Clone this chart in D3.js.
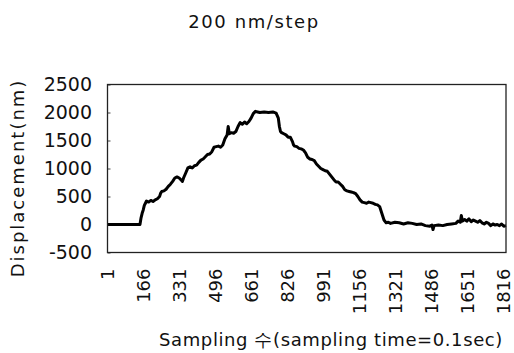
<!DOCTYPE html>
<html>
<head>
<meta charset="utf-8">
<script src="https://cdn.jsdelivr.net/npm/d3@7"></script>
<style>
  html, body { margin: 0; padding: 0; background: #fff; }
  svg { display: block; }
  text { font-family: "DejaVu Sans", sans-serif; fill: #111; }
</style>
</head>
<body>
<div id="chart"></div>
<script>
// sample index (x) and displacement in nm (y)
const samples = [
  1, 150, 155, 160, 165, 170, 175, 180, 190, 200, 210, 220, 230, 240, 245, 250,
  260, 270, 280, 290, 300, 310, 320, 330, 340, 345, 350, 360, 370, 380, 390, 400,
  410, 420, 430, 440, 450, 460, 470, 480, 490, 500, 510, 520, 530, 540, 550, 555,
  560, 570, 580, 590, 600, 610, 620, 630, 640, 650, 660, 670, 680, 690, 700, 720,
  740, 760, 775, 785, 790, 795, 800, 810, 820, 830, 840, 850, 855, 860, 870, 880,
  890, 900, 910, 920, 930, 940, 950, 960, 970, 980, 990, 1000, 1010, 1020, 1030, 1040,
  1050, 1060, 1070, 1080, 1090, 1100, 1110, 1120, 1130, 1140, 1150, 1160, 1170, 1180, 1190, 1200,
  1210, 1220, 1230, 1240, 1250, 1260, 1270, 1280, 1290, 1300, 1320, 1340, 1360, 1380, 1400, 1420,
  1440, 1460, 1480, 1490, 1495, 1500, 1520, 1540, 1560, 1580, 1600, 1610, 1620, 1625, 1630, 1640,
  1650, 1660, 1670, 1680, 1690, 1700, 1710, 1720, 1730, 1740, 1750, 1760, 1770, 1780, 1790, 1800,
  1810, 1820, 1830
];
const displacement = [
  0, 0, 120, 200, 260, 340, 380, 420, 400, 430, 410, 440, 460, 500, 560, 590,
  600, 630, 680, 720, 770, 830, 850, 830, 790, 770, 830, 920, 1010, 1030, 1010, 1050,
  1060, 1110, 1150, 1170, 1210, 1250, 1260, 1300, 1380, 1390, 1400, 1380, 1420, 1530, 1600, 1750,
  1620, 1640, 1630, 1660, 1750, 1820, 1790, 1830, 1800, 1840, 1900, 1980, 2020, 2010, 2000, 2010,
  2000, 2010, 1990, 1900, 1750, 1660, 1640, 1620, 1600, 1560, 1560, 1480, 1420, 1400, 1390, 1360,
  1350, 1330, 1280, 1200, 1170, 1160, 1140, 1080, 1040, 1000, 980, 960, 950, 900, 850, 800,
  760, 760, 720, 680, 620, 600, 590, 580, 570, 550, 500, 440, 400, 390, 380, 400,
  390, 380, 360, 350, 320, 200, 80, 30, 40, 20, 40, 30, 10, 30, 20, 0,
  10, -20, -30, -10, -90, -20, -10, -20, 0, 10, 20, 60, 40, 160, 60, 90,
  60, 100, 50, 80, 60, 40, 70, 30, 10, 40, 20, -20, 10, -10, 0, -20,
  10, -30, -20
];
const xTicks = [1, 166, 331, 496, 661, 826, 991, 1156, 1321, 1486, 1651, 1816];
const yTicks = [-500, 0, 500, 1000, 1500, 2000, 2500];

const W = 514, H = 353;
const plot = { left: 107.5, right: 506, top: 84.5, bottom: 252.5 };

const svg = d3.select('#chart').append('svg')
  .attr('width', W)
  .attr('height', H);

const x = d3.scaleLinear().domain([1, 1830]).range([plot.left, plot.right]);
const y = d3.scaleLinear().domain([-500, 2500]).range([plot.bottom, plot.top]);

// title
svg.append('text')
  .attr('x', 254).attr('y', 28)
  .attr('text-anchor', 'middle')
  .style('font-size', '18px')
  .style('letter-spacing', '1.6px')
  .text('200 nm/step');

// y axis: inward ticks on the frame, labels to the left
const yAxis = svg.append('g')
  .attr('transform', 'translate(' + plot.left + ',0)')
  .call(d3.axisRight(y).tickValues(yTicks).tickSize(3).tickFormat(''));
yAxis.select('.domain').remove();
yAxis.selectAll('.tick line').attr('stroke', '#444');

svg.append('g').selectAll('text')
  .data(yTicks)
  .enter().append('text')
    .attr('x', 92)
    .attr('y', function(d) { return y(d); })
    .attr('dy', '0.36em')
    .attr('text-anchor', 'end')
    .style('font-size', '19px')
    .text(function(d) { return d < 0 ? '-' + Math.abs(d) : d; });

// x axis labels (rotated)
const xAxis = svg.append('g')
  .attr('transform', 'translate(0,' + plot.bottom + ')')
  .call(d3.axisBottom(x).tickValues(xTicks).tickSize(0).tickPadding(0).tickFormat(d3.format('d')));
xAxis.select('.domain').remove();
xAxis.selectAll('.tick text')
  .attr('transform', 'translate(0,16) rotate(-90)')
  .attr('x', 0).attr('y', 0)
  .attr('dy', '0.36em')
  .attr('text-anchor', 'end')
  .style('font-size', '18px')
  .style('font-family', '"DejaVu Sans", sans-serif')
  .style('fill', '#111');

// axis titles
svg.append('text')
  .attr('transform', 'translate(24,178) rotate(-90)')
  .attr('text-anchor', 'middle')
  .style('font-size', '18px')
  .style('letter-spacing', '2px')
  .text('Displacement(nm)');

svg.append('text')
  .attr('x', 331).attr('y', 346)
  .attr('text-anchor', 'middle')
  .style('font-size', '18px')
  .style('letter-spacing', '0.6px')
  .text('Sampling 수(sampling time=0.1sec)');

// trace
const points = samples.map(function(s, i) { return [s, displacement[i]]; });
const line = d3.line()
  .x(function(d) { return x(d[0]); })
  .y(function(d) { return y(d[1]); });

svg.append('path')
  .datum(points)
  .attr('d', line)
  .attr('fill', 'none')
  .attr('stroke', '#000')
  .attr('stroke-width', 3)
  .attr('stroke-linejoin', 'round');

// plot frame
svg.append('rect')
  .attr('x', plot.left).attr('y', plot.top)
  .attr('width', plot.right - plot.left)
  .attr('height', plot.bottom - plot.top)
  .attr('fill', 'none')
  .attr('stroke', '#222')
  .attr('stroke-width', 1.3);
</script>
</body>
</html>
